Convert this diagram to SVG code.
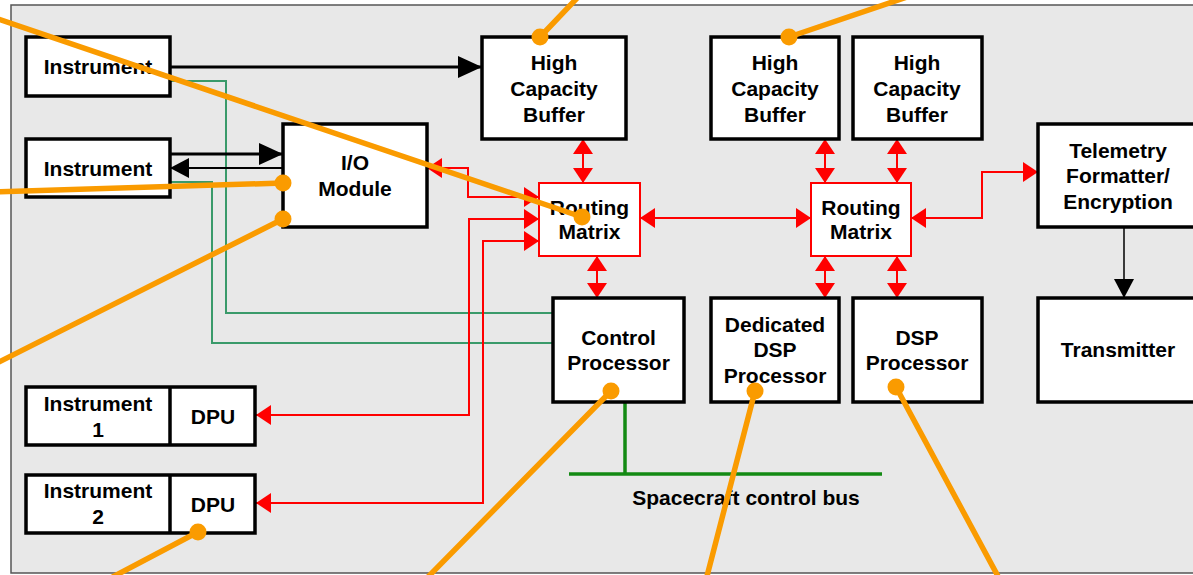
<svg xmlns="http://www.w3.org/2000/svg" width="1193" height="575" viewBox="0 0 1193 575">
<style>
.bx{fill:#fff;stroke:#000;stroke-width:3.5}
.rbx{fill:#fff;stroke:#f00;stroke-width:2}
.t{font-family:"Liberation Sans",Arial,sans-serif;font-weight:bold;font-size:21px;fill:#000;text-anchor:middle}
.red{fill:none;stroke:#f00;stroke-width:2;marker-start:url(#rh);marker-end:url(#rh)}
.grn{fill:none;stroke:#3a9a6a;stroke-width:2}
.bus{fill:none;stroke:#138a13;stroke-width:3.5}
.or{fill:none;stroke:#fa9b00;stroke-width:5.5;stroke-linecap:round}
.dot{fill:#fa9b00}
</style>
<defs>
<marker id="rh" markerUnits="userSpaceOnUse" viewBox="0 0 15 20" markerWidth="15" markerHeight="20" refX="15" refY="10" orient="auto-start-reverse"><path d="M0,0 L15,10 L0,20 z" fill="#f00"/></marker>
<marker id="bk1" markerUnits="userSpaceOnUse" viewBox="0 0 24 22" markerWidth="24" markerHeight="22" refX="24" refY="11" orient="auto"><path d="M0,0 L24,11 L0,22 z" fill="#000"/></marker>
<marker id="bk2" markerUnits="userSpaceOnUse" viewBox="0 0 19 20" markerWidth="19" markerHeight="20" refX="19" refY="10" orient="auto"><path d="M0,0 L19,10 L0,20 z" fill="#000"/></marker>
</defs>
<rect x="11" y="5" width="1190" height="568" fill="#e8e8e8" stroke="#555" stroke-width="1.5"/>

<g id="connectors">
<path class="grn" d="M170,81 H226 V313 H553"/>
<path class="grn" d="M170,182 H212 V343 H553"/>
<path d="M170,67 H482" stroke="#000" stroke-width="3" marker-end="url(#bk1)"/>
<path d="M170,154 H283" stroke="#000" stroke-width="3" marker-end="url(#bk1)"/>
<path d="M283,168 H170" stroke="#000" stroke-width="2" marker-end="url(#bk2)"/>
<path d="M1124,227 V298" stroke="#000" stroke-width="1.5" marker-end="url(#bk2)"/>
<path class="red" d="M427,168 H468 V197 H539"/>
<path class="red" d="M256,415 H469 V219 H539"/>
<path class="red" d="M256,503 H483 V241 H539"/>
<path class="red" d="M640,218 H811"/>
<path class="red" d="M911,218 H982 V172 H1038"/>
<path class="red" d="M583,139 V183"/>
<path class="red" d="M597,256 V298"/>
<path class="red" d="M825,139 V183"/>
<path class="red" d="M897,139 V183"/>
<path class="red" d="M825,256 V298"/>
<path class="red" d="M897,256 V298"/>
<path class="bus" d="M625,402 V474"/>
<path class="bus" d="M569,474 H882"/>
</g>

<g id="instrument-a"><rect class="bx" x="26" y="37" width="144" height="59"/><text class="t" x="98" y="74">Instrument</text></g>
<g id="instrument-b"><rect class="bx" x="26" y="139" width="144" height="58"/><text class="t" x="98" y="176">Instrument</text></g>
<g id="io-module"><rect class="bx" x="283" y="124" width="144" height="103"/><text class="t" x="355" y="170">I/O</text><text class="t" x="355" y="196">Module</text></g>
<g id="hcb-1"><rect class="bx" x="482" y="37" width="144" height="102"/><text class="t" x="554" y="70">High</text><text class="t" x="554" y="96">Capacity</text><text class="t" x="554" y="122">Buffer</text></g>
<g id="hcb-2"><rect class="bx" x="711" y="37" width="128" height="102"/><text class="t" x="775" y="70">High</text><text class="t" x="775" y="96">Capacity</text><text class="t" x="775" y="122">Buffer</text></g>
<g id="hcb-3"><rect class="bx" x="853" y="37" width="129" height="102"/><text class="t" x="917" y="70">High</text><text class="t" x="917" y="96">Capacity</text><text class="t" x="917" y="122">Buffer</text></g>
<g id="routing-1"><rect class="rbx" x="539" y="183" width="101" height="73"/><text class="t" x="589.5" y="215">Routing</text><text class="t" x="589.5" y="239">Matrix</text></g>
<g id="routing-2"><rect class="rbx" x="811" y="183" width="100" height="73"/><text class="t" x="861" y="215">Routing</text><text class="t" x="861" y="239">Matrix</text></g>
<g id="telemetry"><rect class="bx" x="1038" y="124" width="170" height="103"/><text class="t" x="1118" y="158">Telemetry</text><text class="t" x="1118" y="183">Formatter/</text><text class="t" x="1118" y="209">Encryption</text></g>
<g id="transmitter"><rect class="bx" x="1038" y="298" width="170" height="104"/><text class="t" x="1118" y="357">Transmitter</text></g>
<g id="control-processor"><rect class="bx" x="553" y="298" width="131" height="104"/><text class="t" x="618.5" y="345">Control</text><text class="t" x="618.5" y="370">Processor</text></g>
<g id="dedicated-dsp"><rect class="bx" x="711" y="298" width="128" height="104"/><text class="t" x="775" y="332">Dedicated</text><text class="t" x="775" y="357">DSP</text><text class="t" x="775" y="383">Processor</text></g>
<g id="dsp-processor"><rect class="bx" x="853" y="298" width="129" height="104"/><text class="t" x="917" y="345">DSP</text><text class="t" x="917" y="370">Processor</text></g>
<g id="instrument-1"><rect class="bx" x="26" y="387" width="229" height="58"/><line x1="170" y1="387" x2="170" y2="445" stroke="#000" stroke-width="3.5"/><text class="t" x="98" y="411">Instrument</text><text class="t" x="98" y="437">1</text><text class="t" x="213" y="424">DPU</text></g>
<g id="instrument-2"><rect class="bx" x="26" y="475" width="229" height="58"/><line x1="170" y1="475" x2="170" y2="533" stroke="#000" stroke-width="3.5"/><text class="t" x="98" y="498">Instrument</text><text class="t" x="98" y="524">2</text><text class="t" x="213" y="512">DPU</text></g>
<g id="bus-label"><text class="t" x="746" y="505">Spacecraft control bus</text></g>

<g id="annotations">
<path class="or" d="M-5,18 L582,217"/><circle class="dot" cx="582" cy="217" r="8.5"/>
<path class="or" d="M-5,192 L283,183"/><circle class="dot" cx="283" cy="183" r="8.5"/>
<path class="or" d="M-5,364 L283,219"/><circle class="dot" cx="283" cy="219" r="8.5"/>
<path class="or" d="M540,37 L580,-5"/><circle class="dot" cx="540" cy="37" r="8.5"/>
<path class="or" d="M789,37 L910,-4"/><circle class="dot" cx="789" cy="37" r="8.5"/>
<path class="or" d="M198,532 L105,581"/><circle class="dot" cx="198" cy="532" r="8.5"/>
<path class="or" d="M611,391 L425,580"/><circle class="dot" cx="611" cy="391" r="8.5"/>
<path class="or" d="M755,391 L706,580"/><circle class="dot" cx="755" cy="391" r="8.5"/>
<path class="or" d="M896,387 L1000,580"/><circle class="dot" cx="896" cy="387" r="8.5"/>
</g>
</svg>
